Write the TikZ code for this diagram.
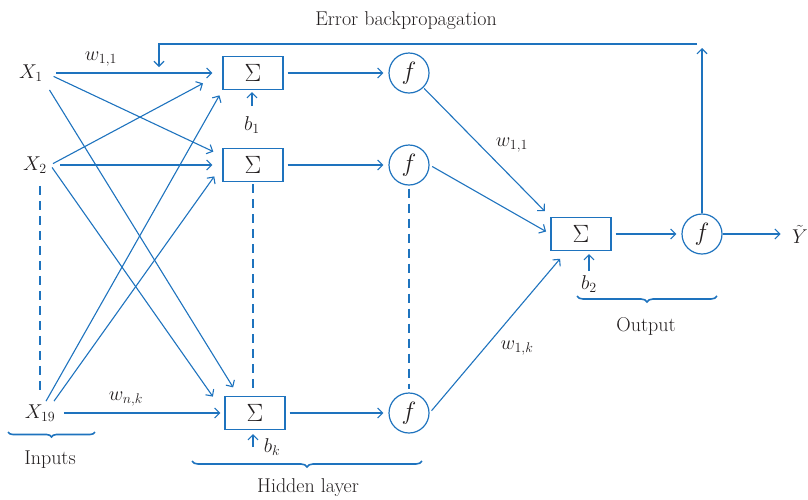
\RequirePackage{fix-cm}
\documentclass[tikz,border=0pt]{standalone}
\usetikzlibrary{arrows.meta,decorations.pathreplacing}
\definecolor{netblue}{RGB}{30,115,190}
\definecolor{inkgray}{RGB}{35,31,32}
\begin{document}
\begin{tikzpicture}[x=1pt,y=-1pt,font=\fontsize{20}{24}\selectfont,text=inkgray,
  >={Straight Barb[length=5pt,width=10pt]},
  sumbox/.style={draw=netblue,line width=1.2pt,minimum width=60pt,minimum height=33pt,inner sep=0pt,font=\fontsize{25}{28}\selectfont},
  actnode/.style={draw=netblue,line width=1.2pt,circle,minimum size=40pt,inner sep=0pt,font=\fontsize{25}{28}\selectfont},
  arr/.style={->,netblue,line width=1.1pt},
  dsh/.style={netblue,line width=1.1pt,dash pattern=on 9pt off 6pt},
  brc/.style={decorate,decoration={brace,mirror,amplitude=6pt},netblue,line width=1.6pt}]
  \useasboundingbox (0,0) rectangle (808,499);
  % inputs, hidden layer, output
  \node (x1) at (31,73) {$X_1$};
  \node (x2) at (35,165) {$X_2$};
  \node (x19) at (40,413) {$X_{19}$};
  \node[sumbox] (s1) at (253,73) {$\Sigma$};
  \node[sumbox] (s2) at (253,165) {$\Sigma$};
  \node[sumbox] (s3) at (255,413) {$\Sigma$};
  \foreach \i/\y in {1/73,2/165,3/413} \node[actnode] (f\i) at (409,\y) {$f$};
  \node[sumbox] (so) at (581,234) {$\Sigma$};
  \node[actnode] (fo) at (702,234) {$f$};
  \node (yh) at (800,234) {$\tilde{Y}$};
  % weights and biases
  \node (w11a) at (101,59) {$w_{1,1}$};
  \node (wnk) at (126,399) {$w_{n,k}$};
  \node (w11b) at (512,145) {$w_{1,1}$};
  \node (w1k) at (517,348) {$w_{1,k}$};
  \node (b1) at (252,125) {$b_1$};
  \node (bk) at (272,447) {$b_k$};
  \node (b2) at (589,284) {$b_2$};
  % input connections
  \draw[arr,shorten <=10pt,shorten >=10pt] (x1.east) -- (s1.west);
  \draw[arr,shorten <=8pt,shorten >=10pt] (x1.east) -- ([yshift=-8pt]s2.north west);
  \draw[arr,shorten <=6pt,shorten >=10pt] (x1.south east) -- ([xshift=14pt]s3.north west);
  \draw[arr,shorten <=3pt,shorten >=22pt] (x2.east) -- (s1.west);
  \draw[arr,shorten <=10pt,shorten >=10pt] (x2.east) -- (s2.west);
  \draw[arr,shorten <=3pt,shorten >=20pt] (x2.east) -- (s3.west);
  \draw[arr,shorten <=5pt,shorten >=4pt] (x19.east) -- (s3.west);
  \draw[arr,shorten >=6pt] ([xshift=6pt]x19.north) -- (s1.south west);
  \draw[arr,shorten >=14pt] ([xshift=14pt]x19.north) -- (s2.west);
  % hidden to output
  \foreach \i in {1,2,3} \draw[arr,shorten <=4pt,shorten >=5pt] (s\i) -- (f\i);
  \draw[arr,shorten <=1pt,shorten >=8pt] (f1) -- (so.north west);
  \draw[arr,shorten <=3pt,shorten >=5pt] (f2.east) -- (so.west);
  \draw[arr,shorten <=3pt,shorten >=10pt] (f3.east) -- (so);
  \draw[arr,shorten <=4pt,shorten >=5pt] (so) -- (fo);
  \draw[arr,shorten >=8pt] (fo) -- (yh);
  % bias arrows
  \draw[arr,shorten <=7pt,shorten >=2pt] (b1.north) -- (b1.north |- s1.south);
  \draw[arr,shorten >=4pt] (s2.south |- bk) -- (s2.south |- s3.south);
  \draw[arr,shorten <=1pt,shorten >=3pt] (b2.north) -- (b2.north |- so.south);
  % dashed columns
  \draw[dsh,shorten <=9pt,shorten >=10pt] (x19.north |- x2.south) -- (x19.north);
  \draw[dsh,shorten <=2pt,shorten >=2pt] (s2.south) -- (s2.south |- s3.north);
  \draw[dsh,shorten <=3pt,shorten >=3pt] (f2.south) -- (f3.north);
  % error backpropagation
  \coordinate (eTop) at (702,48);
  \coordinate (eR) at (697,44);
  \coordinate (eL) at (159,44);
  \coordinate (eDown) at (159,67);
  \draw[arr] (fo.north) -- (eTop);
  \draw[arr] (eR) -- (eL) -- (eDown);
  \node (err) at (406,21) {Error backpropagation};
  % braces
  \draw[brc,decoration={amplitude=5pt}] (8,432) -- (95,432);
  \node (inp) at (50,460) {Inputs};
  \draw[brc] (192,461) -- (422,461);
  \node (hid) at (308,488) {Hidden layer};
  \draw[brc] (577,296) -- (717,296);
  \node (outp) at (646,326) {Output};
\end{tikzpicture}
\end{document}
